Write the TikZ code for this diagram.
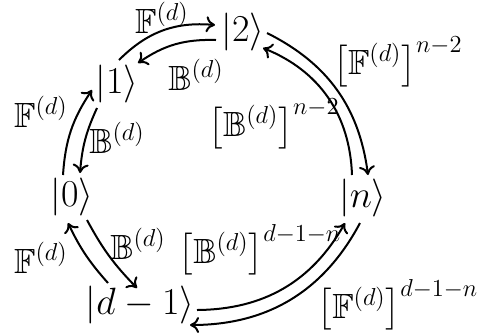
\RequirePackage{fix-cm}
\documentclass[tikz,border=0pt]{standalone}
\usepackage{amssymb}
\usetikzlibrary{arrows.meta}
\begin{document}
\begin{tikzpicture}[x=0.5pt,y=-0.5pt,
  ket/.style={inner sep=0pt, font=\fontsize{19}{22}\selectfont},
  lbl/.style={inner sep=0pt, font=\fontsize{17.5}{20}\selectfont},
  arr/.style={-{To[length=4.5pt,width=8pt]}, line width=1pt}]
\useasboundingbox (0,0) rectangle (488,334);
% states
\node[ket] (k2) at (243,32) {$|2\rangle$};
\node[ket] (k1) at (117,84) {$|1\rangle$};
\node[ket] (k0) at (72,197) {$|0\rangle$};
\node[ket] (kd) at (140,305) {$|d-1\rangle$};
\node[ket] (kn) at (363,198) {$|n\rangle$};
% arrows
\draw[arr] ([shift={(2,-24)}]k1.center) to[bend left=25] ([shift={(-28,-7)}]k2.center);
\draw[arr] ([shift={(-27,8)}]k2.center) to[bend right=18] ([shift={(21,-21)}]k1.center);
\draw[arr] ([shift={(24,1)}]k2.center) to[bend left=28] ([shift={(5,-23)}]kn.center);
\draw[arr] ([shift={(-11,-23)}]kn.center) to[bend right=33] ([shift={(20,16)}]k2.center);
\draw[arr] ([shift={(-9,-22)}]k0.center) to[bend left=15] ([shift={(-25,6)}]k1.center);
\draw[arr] ([shift={(-20,24)}]k1.center) to[bend right=10] ([shift={(8,-24)}]k0.center);
\draw[arr] ([shift={(-32,-22)}]kd.center) to[bend left=8] ([shift={(-4,26)}]k0.center);
\draw[arr] ([shift={(15,23)}]k0.center) to[bend right=8] ([shift={(-3,-17)}]kd.center);
\draw[arr] ([shift={(57,5)}]kd.center) to[bend right=30] ([shift={(-18,25)}]kn.center);
\draw[arr] ([shift={(-3,25)}]kn.center) to[bend left=31] ([shift={(50,20)}]kd.center);
% labels
\node[lbl] (l12) at (162,18) {$\mathbb{F}^{(d)}$};
\node[lbl] (l21) at (196,75) {$\mathbb{B}^{(d)}$};
\node[lbl] (l2n) at (398,62) {$\left[\mathbb{F}^{(d)}\right]^{n-2}$};
\node[lbl] (ln2) at (274,124) {$\left[\mathbb{B}^{(d)}\right]^{n-2}$};
\node[lbl] (l01) at (41,112) {$\mathbb{F}^{(d)}$};
\node[lbl] (l10) at (117,138) {$\mathbb{B}^{(d)}$};
\node[lbl] (ld0) at (41,258) {$\mathbb{F}^{(d)}$};
\node[lbl] (l0d) at (138,244) {$\mathbb{B}^{(d)}$};
\node[lbl] (ldn) at (260,250) {$\left[\mathbb{B}^{(d)}\right]^{d-1-n}$};
\node[lbl] (lnd) at (398,305) {$\left[\mathbb{F}^{(d)}\right]^{d-1-n}$};
\end{tikzpicture}
\end{document}
